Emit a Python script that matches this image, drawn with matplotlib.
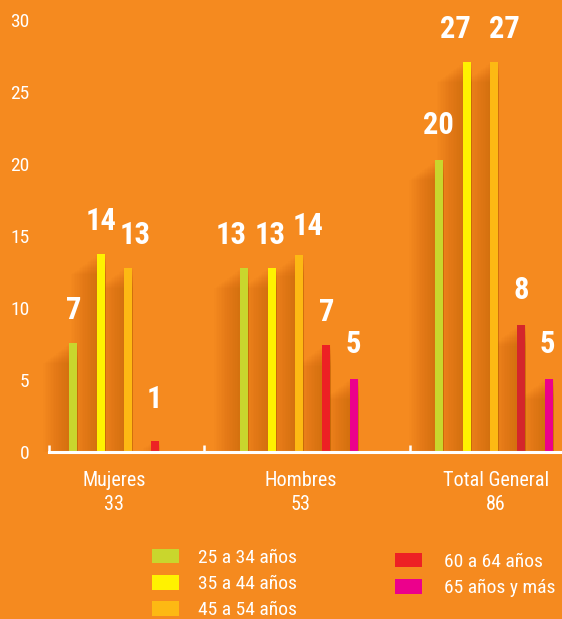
import matplotlib
matplotlib.use("Agg")
import matplotlib.pyplot as plt
from matplotlib import font_manager as fm
from matplotlib.patches import Patch, Rectangle

names = {f.name for f in fm.fontManager.ttflist}
cands = ['Liberation Sans Narrow', 'Roboto Condensed', 'Open Sans Condensed', 'Noto Sans Condensed', 'DejaVu Sans Condensed']
FONT = next((c for c in cands if c in names), 'DejaVu Sans')
plt.rcParams['font.family'] = [FONT, 'DejaVu Sans']

# ---------------- data ----------------
categories = ["Mujeres", "Hombres", "Total General"]
category_totals = ["33", "53", "86"]
series = ["25 a 34 años", "35 a 44 años", "45 a 54 años", "60 a 64 años", "65 años y más"]
# bar heights as drawn in the picture (None = no bar)
heights = [
    [7.6, 13.75, 12.8, 0.75, None],
    [12.8, 12.8, 13.65, 7.4, 5.1],
    [20.3, 27.1, 27.1, 8.8, 5.1],
]
# value labels as printed
value_labels = [
    ["7", "14", "13", "1", None],
    ["13", "13", "14", "7", "5"],
    ["20", "27", "27", "8", "5"],
]
y_ticks = [0, 5, 10, 15, 20, 25, 30]

# ---------------- style / layout ----------------
BG = "#F58A1F"
colors = ["#C9D62D", "#FFF200", "#FDB913", "#ED2124", "#EC008C"]
red_total = "#D4262B"
W, H = 562, 619
px_per_unit = 14.4
group_centers = [128, 299, 494]
slot = 27.3
bar_w = 8
boundary_ticks = [49, 203.6, 409.7]
label_centers = [114.3, 301, 496]
# label nudges in pixels (dx, dy)
label_dx = [[0, 0, 7, -1, 0], [-13, -2, 9, 0, 0], [-1, -11, 10, 0, -1]]
label_dy = [[0, 0, 0, 9, 0], [0, 0, -4, 0, 2], [2, 0, 0, 2, 2]]

fig = plt.figure(figsize=(W / 100, H / 100), dpi=100, facecolor=BG)
ax = fig.add_axes([49 / W, (H - 452) / H, (W - 49) / W, 452 / H])
ax.set_facecolor(BG)
ax.set_xlim(49, W)
ax.set_ylim(0, 452 / px_per_unit)

ypx = 1 / px_per_unit
# soft shadows to the left of each bar
for gi, grp in enumerate(heights):
    for si, h in enumerate(grp):
        if h is None:
            continue
        x = group_centers[gi] + (si - 2) * slot
        for k in range(18):
            w = bar_w + 1.6 * k
            ax.add_patch(Rectangle((x + bar_w / 2 + 1 - w, 0), w, max(h - 1.2 * k * ypx, 0),
                                   facecolor="#8a3a05", edgecolor="none", alpha=0.016, zorder=1,
                                   clip_on=False))

for gi, grp in enumerate(heights):
    for si, h in enumerate(grp):
        if h is None:
            continue
        x = group_centers[gi] + (si - 2) * slot
        c = colors[si]
        if gi == 2 and si == 3:
            c = red_total
        ax.bar(x, h, width=bar_w, color=c, zorder=3)
        ax.annotate(value_labels[gi][si], (x, h),
                    xytext=(label_dx[gi][si] * 0.72, (18 + label_dy[gi][si]) * 0.72),
                    textcoords="offset points", ha="center", va="bottom", color="white",
                    fontsize=22, fontweight="bold", zorder=4)

for s in ["top", "right", "left"]:
    ax.spines[s].set_visible(False)
ax.spines["bottom"].set_color("white")
ax.spines["bottom"].set_linewidth(2.2)
ax.spines["bottom"].set_zorder(5)

ax.set_yticks(y_ticks)
ax.set_yticklabels([str(v) for v in y_ticks])
ax.tick_params(axis="y", length=0, pad=14, labelsize=14, labelcolor="white")

ax.set_xticks(boundary_ticks)
ax.set_xticklabels([""] * len(boundary_ticks))
ax.tick_params(axis="x", which="major", direction="in", length=5, width=1.8, color="white")
ax.set_xticks(label_centers, [f"{c}\n{t}" for c, t in zip(categories, category_totals)], minor=True)
ax.tick_params(axis="x", which="minor", length=0, pad=14, labelsize=14.5, labelcolor="white")
for lab in ax.get_xticklabels(minor=True):
    lab.set_linespacing(1.3)

handles = [Patch(facecolor=c, edgecolor="none") for c in colors]
leg_kw = dict(loc="upper left", frameon=False, fontsize=14, labelcolor="white",
              handlelength=1.4, handleheight=0.75, labelspacing=0.42,
              borderaxespad=0, borderpad=0)
leg1 = fig.legend(handles[:3], series[:3], bbox_to_anchor=(152 / W, 1 - 549 / H),
                  handletextpad=0.95, **leg_kw)
leg2 = fig.legend(handles[3:], series[3:], bbox_to_anchor=(395 / W, 1 - 553 / H),
                  handletextpad=1.1, **leg_kw)

fig.savefig("out.png", dpi=100, facecolor=BG)
